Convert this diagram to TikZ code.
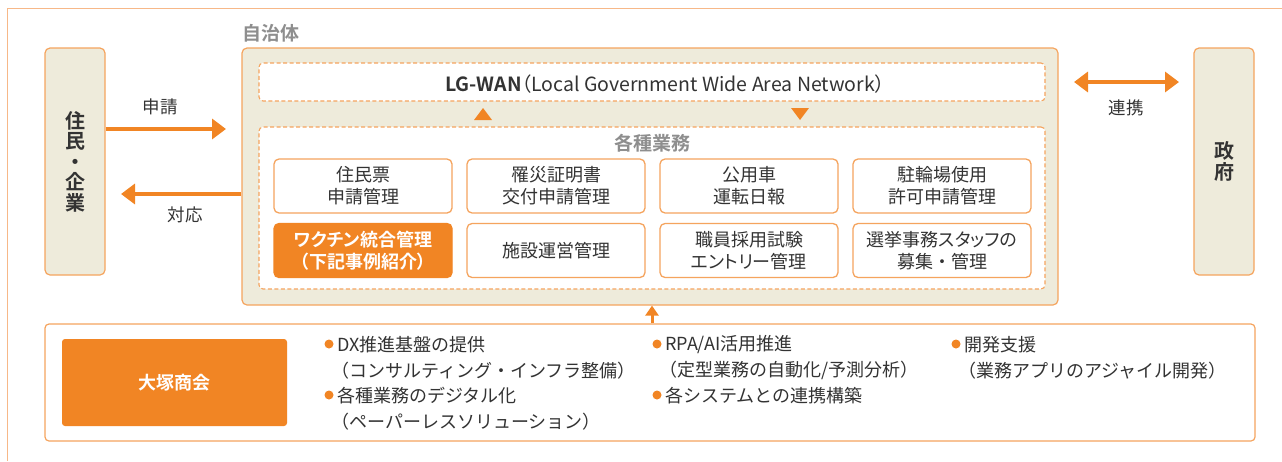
\documentclass[tikz,border=0pt]{standalone}
\usepackage{fontspec}
\setmainfont{Noto Sans CJK JP}[BoldFont={Noto Sans CJK JP Bold},RawFeature=+palt]
\newfontfamily\plainjp{Noto Sans CJK JP}
\usetikzlibrary{arrows.meta,calc}
\definecolor{orM}{HTML}{F18524}
\definecolor{orL}{HTML}{F5A45E}
\definecolor{frameC}{HTML}{F7B888}
\definecolor{cream}{HTML}{EEEBDB}
\definecolor{txt}{HTML}{333333}
\definecolor{gry}{HTML}{8E8E8E}
\tikzset{
  sidebox/.style={draw=orL, line width=1.2pt, fill=cream, rounded corners=5pt, inner sep=0pt, text=txt, align=center, font=\fontsize{20}{20.5}\selectfont\bfseries},
  jbox/.style={draw=orL, line width=1.2pt, fill=cream, rounded corners=5pt, inner sep=0pt},
  dbox/.style={draw=orL, line width=1.1pt, dash pattern=on 4pt off 2.5pt, fill=white, rounded corners=4pt, inner sep=0pt},
  task/.style={draw=orL, line width=1.3pt, fill=white, rounded corners=5pt, minimum width=178pt, minimum height=54pt, inner sep=0pt, text=txt, align=center, font=\fontsize{18}{22}\selectfont},
  taskhl/.style={task, draw=orM, fill=orM, text=white, font=\fontsize{18}{22}\selectfont\bfseries},
  lbl/.style={text=txt, inner sep=0pt, font=\fontsize{17.5}{20}\selectfont},
  head/.style={text=gry, inner sep=0pt, font=\fontsize{19}{20}\selectfont\bfseries},
  bigarrow/.style={draw=orM, line width=4pt, -{Triangle[length=14pt,width=20pt]}},
  dblarrow/.style={draw=orM, line width=4pt, {Triangle[length=14pt,width=20pt]}-{Triangle[length=14pt,width=20pt]}},
  uparrow/.style={draw=orM, line width=3pt, -{Triangle[length=10pt,width=13pt]}},
  item/.style={text=txt, inner sep=0pt, anchor=west, font=\plainjp\fontsize{18}{20}\selectfont},
  dot/.style={circle, fill=orM, minimum size=9pt, inner sep=0pt},
}
\begin{document}
\begin{tikzpicture}[x=1pt,y=-1pt]
\useasboundingbox (0,0) rectangle (1282,461);
% outer frame
\draw[frameC, line width=1pt] (7,461) -- (7,8) -- (1282,8);
% side boxes
\node[sidebox, minimum width=60pt, minimum height=227pt] (jumin) at (75,161.5) {住\\民\\・\\企\\業};
\node[sidebox, minimum width=60pt, minimum height=227pt] (seifu) at (1224,161.5) {政\\府};
% municipality
\node[jbox, minimum width=816pt, minimum height=257pt] (jichitai) at (650,176.5) {};
\node[head] (jlabel) at (271,33) {自治体};
% LG-WAN
\node[dbox, minimum width=786pt, minimum height=38pt] (lgwan) at (652,82) {};
\node[text=txt, inner sep=0pt, font=\fontsize{19.5}{22}\selectfont] (lgtext) at (665,84) {\textbf{LG-WAN}（Local Government Wide Area Network）};
% tasks
\node[dbox, minimum width=786pt, minimum height=162pt] (tasks) at (652,208) {};
\node[head] (tlabel) at (652,143) {各種業務};
\node[task] (t11) at (363,186) {住民票\\申請管理};
\node[task] (t12) at (556,186) {罹災証明書\\交付申請管理};
\node[task] (t13) at (749,186) {公用車\\運転日報};
\node[task] (t14) at (942,186) {駐輪場使用\\許可申請管理};
\node[taskhl] (t21) at (363,250.5) {ワクチン統合管理\\（下記事例紹介）};
\node[task] (t22) at (556,250.5) {施設運営管理};
\node[task] (t23) at (749,250.5) {職員採用試験\\エントリー管理};
\node[task] (t24) at (942,250.5) {選挙事務スタッフの\\募集{\plainjp ・}管理};
% triangles between LG-WAN and tasks
\fill[orM] (474,120) -- (483,108) -- (492,120) -- cycle;
\fill[orM] (791,108) -- (809,108) -- (800,120) -- cycle;
% arrows left
\coordinate (reqend) at (226,129);
\coordinate (respend) at (121,194);
\draw[bigarrow] (jumin.east |- reqend) -- (reqend);
\draw[bigarrow] (jichitai.west |- respend) -- (respend);
\node[lbl] (req) at (160,107) {申請};
\node[lbl] (resp) at (185,215) {対応};
% arrow right
\coordinate (linkL) at (1074,82);
\coordinate (linkR) at (1179,82);
\draw[dblarrow] (linkL) -- (linkR);
\node[lbl] (link) at (1126,108) {連携};
% bottom
\node[jbox, fill=white, rounded corners=4pt, minimum width=1210pt, minimum height=117pt] (bottom) at (650,382.5) {};
\node[fill=orM, rounded corners=3pt, minimum width=225pt, minimum height=87pt, inner sep=0pt, text=white, font=\fontsize{18}{20}\selectfont\bfseries] (otsuka) at (174.5,382.5) {大塚商会};
\coordinate (upx) at (652,0);
\draw[uparrow] (bottom.north -| upx) -- (jichitai.south -| upx);
% items col 1
\node[dot] (d1) at (329,344) {};
\node[item] (i1) at (337,345) {DX推進基盤の提供};
\node[item] (i1b) at (337,370.5) {\kern-6pt（コンサルティング・インフラ整備）};
\node[dot] (d2) at (329,395) {};
\node[item] (i2) at (337,396) {各種業務のデジタル化};
\node[item] (i2b) at (337,421.5) {\kern-6pt（ペーパーレスソリューション）};
% col 2
\node[dot] (d3) at (657,344) {};
\node[item] (i3) at (665,345) {RPA/AI活用推進};
\node[item] (i3b) at (665,370.5) {\kern-6pt（定型業務の自動化/予測分析）};
\node[dot] (d4) at (657,395) {};
\node[item] (i4) at (665,396) {各システムとの連携構築};
% col 3
\node[dot] (d5) at (956,344) {};
\node[item] (i5) at (964,345) {開発支援};
\node[item] (i5b) at (964,370.5) {\kern-6pt（業務アプリのアジャイル開発）};
\end{tikzpicture}
\end{document}
